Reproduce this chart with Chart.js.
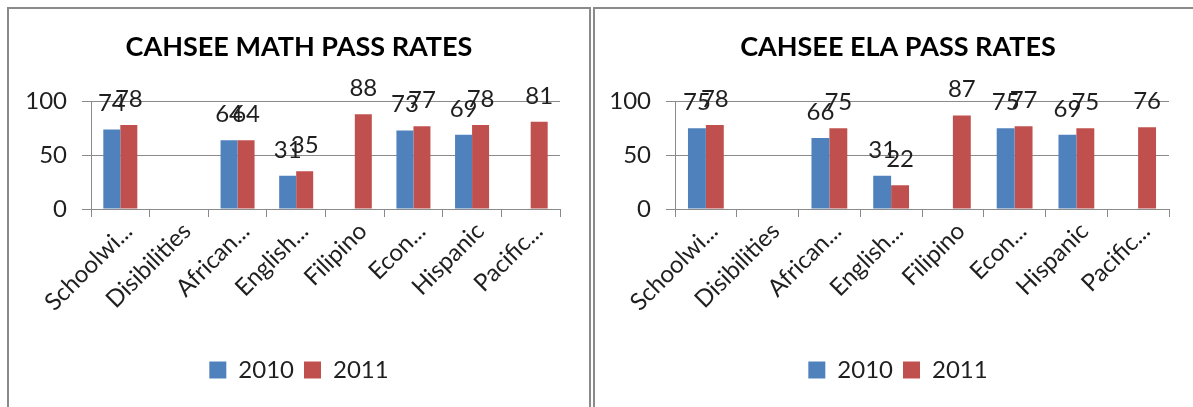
<!DOCTYPE html>
<html>
<head>
<meta charset="utf-8">
<script src="https://cdn.jsdelivr.net/npm/chart.js@4.4.1/dist/chart.umd.min.js"></script>
<style>
  html, body { margin: 0; padding: 0; background: #fff; overflow: hidden; }
  body { width: 1193px; height: 407px; position: relative; }
  .panel { position: absolute; top: 7px; height: 420px; border: 2px solid #8a8a8a; background: #fff; box-sizing: border-box; }
  .panel .wrap { position: absolute; left: 0; top: 0; height: 398px; }
  #mathPanel { left: 7px; width: 584px; }
  #mathPanel .wrap { width: 580px; }
  #elaPanel { left: 593px; width: 610px; }
  #elaPanel .wrap { width: 606px; }
</style>
</head>
<body>
<div class="panel" id="mathPanel"><div class="wrap"><canvas id="mathChart"></canvas></div></div>
<div class="panel" id="elaPanel"><div class="wrap"><canvas id="elaChart"></canvas></div></div>
<script>
// Student groups (labels as shown on the axis)
const groups = ["Schoolwi...", "Disibilities", "African...", "English...", "Filipino", "Econ...", "Hispanic", "Pacific..."];
const years = ["2010", "2011"];

// CAHSEE math pass rates (%)
const math2010 = [74, null, 64, 31, null, 73, 69, null];
const math2011 = [78, null, 64, 35, 88, 77, 78, 81];

// CAHSEE ELA pass rates (%)
const ela2010 = [75, null, 66, 31, null, 75, 69, null];
const ela2011 = [78, null, 75, 22, 87, 77, 75, 76];

const yTicks = [0, 50, 100];

const FONT = "Lato, 'Open Sans', sans-serif";
const TEXT = '#1f1f1f';
const GRID = '#8a8a8a';
const BLUE = '#4F81BD';
const RED = '#C0504D';

// Value printed above each bar
const valueLabels = {
  id: 'valueLabels',
  afterDatasetsDraw(chart) {
    const ctx = chart.ctx;
    ctx.save();
    ctx.font = '24px ' + FONT;
    ctx.fillStyle = TEXT;
    ctx.textAlign = 'center';
    ctx.textBaseline = 'alphabetic';
    chart.data.datasets.forEach((ds, i) => {
      const meta = chart.getDatasetMeta(i);
      meta.data.forEach((bar, j) => {
        const v = ds.data[j];
        if (v === null || v === undefined) return;
        ctx.fillText(String(v), bar.x, bar.y - 18);
      });
    });
    ctx.restore();
  }
};

function makeChart(canvasId, title, v2010, v2011, yAxisWidth, rightGap) {
  return new Chart(document.getElementById(canvasId), {
    type: 'bar',
    data: {
      labels: groups,
      datasets: [
        { label: years[0], data: v2010, backgroundColor: BLUE, borderWidth: 0 },
        { label: years[1], data: v2011, backgroundColor: RED, borderWidth: 0 }
      ]
    },
    options: {
      responsive: true,
      maintainAspectRatio: false,
      animation: false,
      events: [],
      datasets: { bar: { categoryPercentage: 0.58, barPercentage: 1.0 } },
      layout: { padding: { left: 0, right: 0, top: 0, bottom: 15 } },
      plugins: {
        title: {
          display: true,
          text: title,
          color: '#000',
          font: { family: FONT, size: 27, weight: 'bold', lineHeight: 1.2 },
          padding: { top: 22, bottom: 38 }
        },
        legend: {
          display: true,
          position: 'bottom',
          labels: {
            color: TEXT,
            font: { family: FONT, size: 24 },
            boxWidth: 17,
            boxHeight: 17,
            padding: 10
          }
        },
        tooltip: { enabled: false }
      },
      scales: {
        x: {
          grid: { display: true, drawOnChartArea: false, drawTicks: true, tickLength: 8, color: GRID, offset: true },
          border: { display: true, color: GRID, width: 1 },
          ticks: {
            autoSkip: false,
            minRotation: 45,
            maxRotation: 45,
            color: TEXT,
            font: { family: FONT, size: 24 },
            padding: 0,
            labelOffset: 8
          },
          afterFit(scale) {
            scale.height = 139;
            scale.paddingRight = rightGap;
          }
        },
        y: {
          min: 0,
          max: 100,
          afterBuildTicks(scale) { scale.ticks = yTicks.map(v => ({ value: v })); },
          grid: { display: true, color: GRID, tickLength: 9, drawTicks: true },
          border: { display: true, color: GRID, width: 1 },
          ticks: {
            color: TEXT,
            font: { family: FONT, size: 24 },
            padding: 15
          },
          afterFit(scale) { scale.width = yAxisWidth; }
        }
      }
    },
    plugins: [valueLabels]
  });
}

function draw() {
  makeChart('mathChart', 'CAHSEE MATH PASS RATES', math2010, math2011, 82, 29);
  makeChart('elaChart', 'CAHSEE ELA PASS RATES', ela2010, ela2011, 80, 32);
}

if (document.fonts && document.fonts.load) {
  Promise.all([
    document.fonts.load('24px Lato'),
    document.fonts.load('bold 27px Lato')
  ]).then(draw, draw);
} else {
  draw();
}
</script>
</body>
</html>
